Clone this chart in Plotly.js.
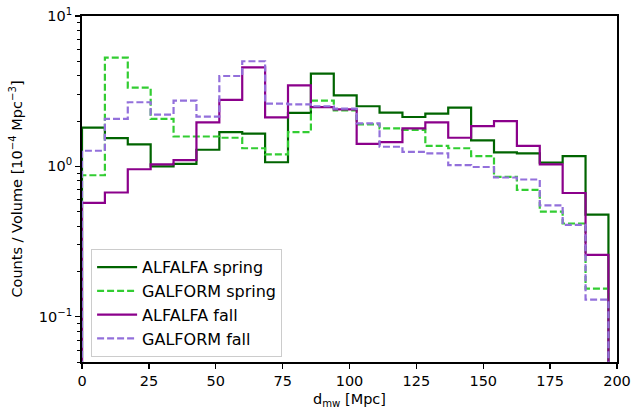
<!DOCTYPE html>
<html>
<head>
<meta charset="utf-8">
<script src="https://cdn.plot.ly/plotly-3.0.1.min.js"></script>
<style>html,body{margin:0;padding:0;background:#fff;}#chart{width:634px;height:414px;}</style>
</head>
<body>
<div id="chart"></div>
<script>
// Histogram binning (23 equal bins from 0 to ~196.8 Mpc)
const binStart = 0;
const binEnd = 196.8;
const nBins = 23;

// Counts / Volume [1e-4 Mpc^-3], one value per bin
const alfalfaSpring = [1.81, 1.54, 1.40, 1.00, 1.04, 1.29, 1.69, 1.65, 1.065, 2.27, 4.14, 2.97, 2.51, 2.28, 2.13, 2.24, 2.46, 1.49, 1.24, 1.22, 1.06, 1.17, 0.478];
const galformSpring = [0.873, 5.29, 3.34, 2.07, 1.58, 1.58, 1.55, 1.32, 1.20, 1.69, 2.74, 2.36, 1.90, 1.79, 1.75, 1.37, 1.32, 1.17, 0.851, 0.697, 0.50, 0.417, 0.154];
const alfalfaFall = [0.571, 0.67, 0.957, 1.03, 1.10, 1.96, 2.77, 4.56, 2.12, 3.46, 2.48, 2.39, 1.41, 1.45, 1.79, 1.96, 1.55, 1.85, 2.00, 1.37, 1.03, 0.665, 0.258];
const galformFall = [1.27, 2.07, 2.67, 2.21, 2.74, 2.14, 3.99, 5.0, 2.61, 2.58, 2.51, 2.42, 1.93, 1.35, 1.25, 1.22, 1.02, 0.99, 0.843, 0.818, 0.551, 0.408, 0.130];

const seriesNames = ["ALFALFA spring", "GALFORM spring", "ALFALFA fall", "GALFORM fall"];
const seriesColors = ["#006400", "#32CD32", "#8B008B", "#9370DB"];
const seriesDash = ["solid", "7px,3px", "solid", "7px,3px"];

const xTickVals = [0, 25, 50, 75, 100, 125, 150, 175, 200];
const yTickVals = [0.1, 1, 10];
const yTickText = ["10<sup>\u22121</sup>", "10<sup>0</sup>", "10<sup>1</sup>"];

const edges = [];
for (let i = 0; i <= nBins; i++) edges.push(binStart + (binEnd - binStart) * i / nBins);

const floorVal = 1e-4; // below visible range: step drops to the axis

function stepTrace(vals, idx) {
  const x = [edges[0]];
  const y = [floorVal];
  for (let i = 0; i < vals.length; i++) { x.push(edges[i]); y.push(vals[i]); }
  x.push(edges[vals.length]); y.push(vals[vals.length - 1]);
  x.push(edges[vals.length]); y.push(floorVal);
  return {
    x: x, y: y, type: "scatter", mode: "lines",
    line: {shape: "hv", color: seriesColors[idx], width: 2.2, dash: seriesDash[idx]},
    name: seriesNames[idx], hoverinfo: "skip"
  };
}

const data = [alfalfaSpring, galformSpring, alfalfaFall, galformFall].map(stepTrace);

const minorVals = [];
[0.01, 0.1, 1].forEach(d => { for (let k = 2; k <= 9; k++) minorVals.push(k * d); });

const font = {family: "DejaVu Sans, sans-serif", size: 14.5, color: "#000"};

const layout = {
  width: 634, height: 414,
  margin: {l: 82, r: 17, t: 16, b: 52},
  paper_bgcolor: "#fff", plot_bgcolor: "#fff",
  font: font,
  showlegend: true,
  legend: {
    x: 0.017, y: 0.014, xanchor: "left", yanchor: "bottom",
    bgcolor: "rgba(255,255,255,0.8)", bordercolor: "#cccccc", borderwidth: 1,
    font: {family: "DejaVu Sans, sans-serif", size: 16, color: "#000"},
    traceorder: "normal", itemwidth: 40
  },
  xaxis: {
    range: [0, 200], tickvals: xTickVals, ticktext: xTickVals.map(String),
    ticks: "outside", ticklen: 5, tickwidth: 1.4, tickcolor: "#000",
    showline: true, linecolor: "#000", linewidth: 2, mirror: true,
    showgrid: false, zeroline: false,
    tickfont: font,
    title: {text: "d<sub>mw</sub> [Mpc]", font: font, standoff: 5}
  },
  yaxis: {
    type: "log", range: [Math.log10(0.05), 1],
    tickvals: yTickVals, ticktext: yTickText,
    ticks: "outside", ticklen: 5, tickwidth: 1.4, tickcolor: "#000",
    minor: {tickvals: minorVals, ticks: "outside", ticklen: 3, tickwidth: 1, tickcolor: "#000", showgrid: false},
    showline: true, linecolor: "#000", linewidth: 2, mirror: true,
    showgrid: false, zeroline: false,
    tickfont: font,
    title: {text: "Counts / Volume [10<sup>\u22124</sup> Mpc<sup>\u22123</sup>]", font: font, standoff: 13}
  }
};

Plotly.newPlot("chart", data, layout, {staticPlot: true, displayModeBar: false});
</script>
</body>
</html>
